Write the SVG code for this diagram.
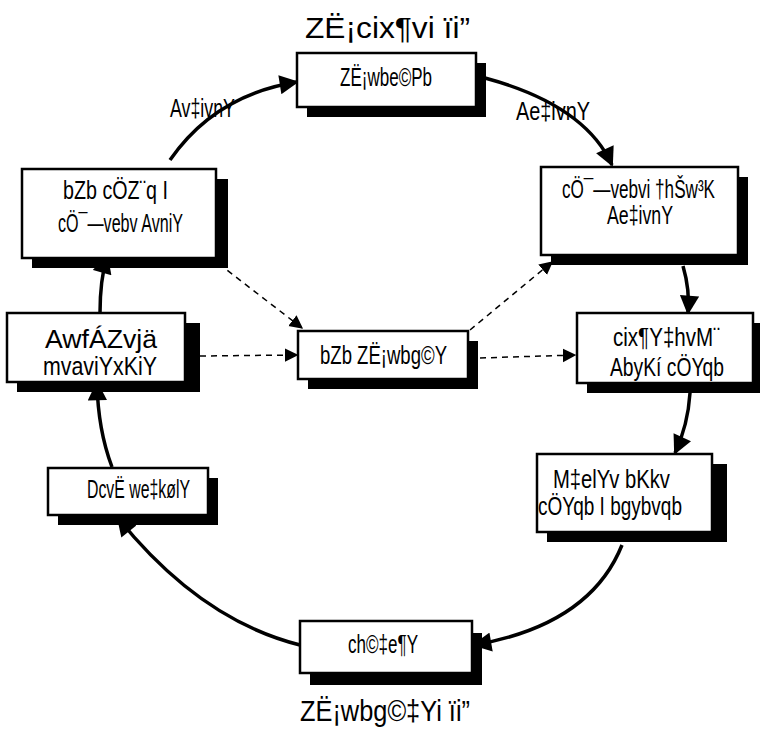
<svg xmlns="http://www.w3.org/2000/svg" width="760" height="730" viewBox="0 0 760 730">
<defs>
<marker id="ah" viewBox="0 0 10 10" refX="9" refY="5" markerWidth="6" markerHeight="5.5" markerUnits="strokeWidth" orient="auto"><path d="M0,0 L10,5 L0,10 z" fill="#000"/></marker>
<marker id="ahd" viewBox="0 0 10 10" refX="9" refY="5" markerWidth="9" markerHeight="10" markerUnits="strokeWidth" orient="auto"><path d="M0,0 L10,5 L0,10 z" fill="#000"/></marker>
</defs>
<style>
.box{fill:#fff;stroke:#000;stroke-width:2.5}
.sh{fill:#000}
.t{font-family:"Liberation Sans Narrow","Liberation Sans",Arial,sans-serif;font-size:26px;fill:#000;text-anchor:start}
.big{font-size:30px}
.c{fill:none;stroke:#000;stroke-width:3.5}
.d{fill:none;stroke:#000;stroke-width:1.5;stroke-dasharray:6,5}
</style>
<rect width="760" height="730" fill="#fff"/>
<text class="t big" x="305" y="38" textLength="165" lengthAdjust="spacingAndGlyphs">ZË¡cix¶vi ïi”</text>
<text class="t big" x="300" y="721" textLength="170" lengthAdjust="spacingAndGlyphs">ZË¡wbg©‡Yi ïi”</text>
<g id="connectors">
<path class="c" d="M170,160 Q215,95 297,82" marker-end="url(#ah)"/>
<path class="c" d="M485,78 Q585,105 612,165" marker-end="url(#ah)"/>
<path class="c" d="M683,266 Q690,290 688,313" marker-end="url(#ah)"/>
<path class="c" d="M690,393 Q688,425 675,453" marker-end="url(#ah)"/>
<path class="c" d="M622,545 Q590,625 474,645" marker-end="url(#ah)"/>
<path class="c" d="M300,645 Q200,620 118,518" marker-end="url(#ah)"/>
<path class="c" d="M112,467 Q98,430 97,383" marker-end="url(#ah)"/>
<path class="c" d="M100,313 Q100,280 107,256" marker-end="url(#ah)"/>
<path class="d" d="M210,257 L302,328" marker-end="url(#ahd)"/>
<path class="d" d="M200,356 L297,355" marker-end="url(#ahd)"/>
<path class="d" d="M480,358 L575,355" marker-end="url(#ahd)"/>
<path class="d" d="M470,330 L552,262" marker-end="url(#ahd)"/>
<text class="t" x="170" y="117" textLength="65" lengthAdjust="spacingAndGlyphs">Av‡ivnY</text>
<text class="t" x="516" y="120" textLength="74" lengthAdjust="spacingAndGlyphs">Ae‡ivnY</text>
</g>
<g id="n1">
<rect class="sh" x="307" y="63" width="179" height="54"/>
<rect class="box" x="297" y="53" width="179" height="54"/>
<text class="t" x="340" y="86" textLength="92" lengthAdjust="spacingAndGlyphs">ZË¡wbe©Pb</text>
</g>
<g id="n2">
<rect class="sh" x="551" y="177" width="197" height="88"/>
<rect class="box" x="541" y="167" width="197" height="88"/>
<text class="t" x="562" y="198" textLength="153" lengthAdjust="spacingAndGlyphs">cÖ¯—vebvi †hŠw³K</text>
<text class="t" x="607" y="224" textLength="66" lengthAdjust="spacingAndGlyphs">Ae‡ivnY</text>
</g>
<g id="n3">
<rect class="sh" x="587" y="323" width="180" height="70"/>
<rect class="box" x="577" y="313" width="176" height="70"/>
<text class="t" x="613" y="346" textLength="107" lengthAdjust="spacingAndGlyphs">cix¶Y‡hvM¨</text>
<text class="t" x="610" y="376" textLength="114" lengthAdjust="spacingAndGlyphs">AbyKí cÖYqb</text>
</g>
<g id="n4">
<rect class="sh" x="547" y="464" width="180" height="78"/>
<rect class="box" x="537" y="454" width="175" height="78"/>
<text class="t" x="553" y="488" textLength="117" lengthAdjust="spacingAndGlyphs">M‡elYv bKkv</text>
<text class="t" x="538" y="515" textLength="144" lengthAdjust="spacingAndGlyphs">cÖYqb I bgybvqb</text>
</g>
<g id="n5">
<rect class="sh" x="310" y="633" width="172" height="52"/>
<rect class="box" x="300" y="621" width="172" height="52"/>
<text class="t" x="348" y="653" textLength="70" lengthAdjust="spacingAndGlyphs">ch©‡e¶Y</text>
</g>
<g id="n6">
<rect class="sh" x="58" y="478" width="160" height="47"/>
<rect class="box" x="48" y="468" width="160" height="47"/>
<text class="t" x="87" y="498" textLength="103" lengthAdjust="spacingAndGlyphs">DcvË we‡kølY</text>
</g>
<g id="n7">
<rect class="sh" x="17" y="323" width="183" height="69"/>
<rect class="box" x="7" y="313" width="178" height="69"/>
<text class="t" x="45" y="348" textLength="112" lengthAdjust="spacingAndGlyphs">AwfÁZvjä</text>
<text class="t" x="43" y="375" textLength="114" lengthAdjust="spacingAndGlyphs">mvaviYxKiY</text>
</g>
<g id="n8">
<rect class="sh" x="32" y="179" width="196" height="89"/>
<rect class="box" x="22" y="169" width="194" height="89"/>
<text class="t" x="63" y="199" textLength="105" lengthAdjust="spacingAndGlyphs">bZb cÖZ¨q I</text>
<text class="t" x="58" y="232" textLength="125" lengthAdjust="spacingAndGlyphs">cÖ¯—vebv AvniY</text>
</g>
<g id="n9">
<rect class="sh" x="308" y="341" width="170" height="48"/>
<rect class="box" x="298" y="331" width="170" height="48"/>
<text class="t" x="320" y="364" textLength="127" lengthAdjust="spacingAndGlyphs">bZb ZË¡wbg©Y</text>
</g>
</svg>
